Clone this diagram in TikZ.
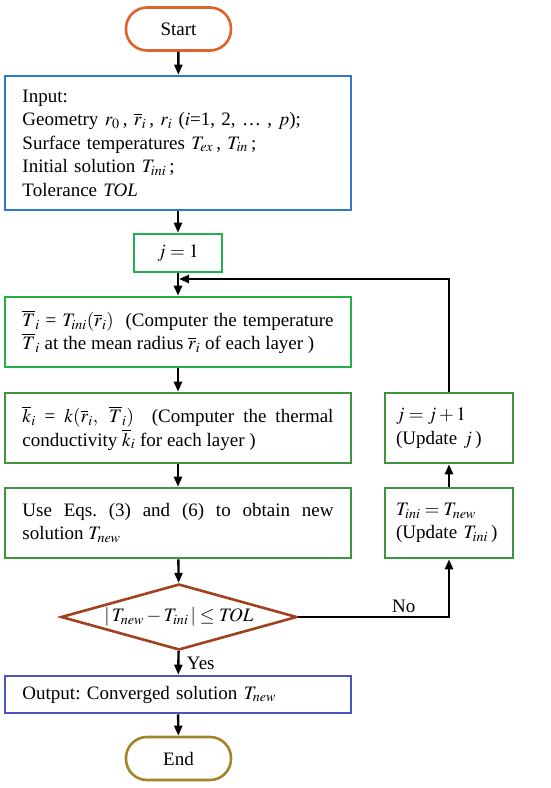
\documentclass[tikz,border=0pt]{standalone}
\usepackage{mathptmx}
\usepackage{fontspec}
\setmainfont{Liberation Serif}
\usetikzlibrary{arrows.meta, positioning, shapes.geometric, calc}
\definecolor{corange}{HTML}{DF622A}
\definecolor{cblue}{HTML}{2F78C8}
\definecolor{cgreen}{HTML}{22B04B}
\definecolor{cdgreen}{HTML}{3F9440}
\definecolor{cred}{HTML}{A2401F}
\definecolor{cviolet}{HTML}{4A55C0}
\definecolor{cgold}{HTML}{A2852A}
\tikzset{
  every picture/.style={x=1pt, y=-1pt, line width=2.6pt},
  every node/.style={font=\fontsize{19}{23.5}\selectfont\frenchspacing},
  term/.style={draw=#1, rounded corners=21pt, minimum width=105pt, minimum height=43pt, inner sep=0pt},
  box/.style={draw=#1, fill=white, minimum width=346pt, text width=311pt, inner sep=0pt, align=justify},
  box/.default=cgreen,
  sidebox/.style={draw=cdgreen, minimum width=128pt, minimum height=70pt, text width=106pt, inner sep=0pt, align=left},
  arrow/.style={-{Triangle[length=10pt, width=8pt]}, draw=black, line width=2.4pt},
}

\begin{document}
\begin{tikzpicture}
  \useasboundingbox (0,0) rectangle (550,788);
  \node[term=corange] (start) at (178.5,29) {Start};
  \node[box=cblue, minimum height=134pt, align=left] (input) at (178,143) {Input:\\
    Geometry $r_0$\,, $\overline{r}_i$\,, $r_i$ ($i$=1, 2, \dots\ , $p$);\\
    Surface temperatures $T_{ex}$\,, $T_{in}$\,;\\
    Initial solution $T_{ini}$\,;\\
    Tolerance \textit{TOL}};
  \node[draw=cgreen, minimum width=88pt, minimum height=38pt] (init) at (178,253) {$j = 1$};
  \node[box, minimum height=70pt] (tbar) at (178,332) {$\overline{T}_i$ = $T_{ini}(\overline{r}_i)$ \ (Computer the temperature\linebreak
    $\overline{T}_i$ at the mean radius $\overline{r}_i$ of each layer )};
  \node[box=cdgreen, minimum height=70pt] (kbar) at (178,428) {$\overline{k}_i$ = $k(\overline{r}_i,\ \overline{T}_i)$ \ (Computer the thermal\linebreak
    conductivity $\overline{k}_i$ for each layer )};
  \node[box=cdgreen, minimum height=70pt] (solve) at (178,523) {Use Eqs. (3) and (6) to obtain new\linebreak
    solution $T_{new}$};
  \node[diamond, draw=cred, aspect=3.58, minimum width=236pt, minimum height=66pt, inner sep=0pt] (check) at (179,617)
    {$|\,T_{new} - T_{ini}\,| \leq \mathit{TOL}$};
  \node[box=cviolet, minimum height=37pt, align=left] (output) at (178,694.5) {Output: Converged solution $T_{new}$};
  \node[term=cgold] (stop) at (178.5,758.5) {End};
  % loop on the right
  \node[sidebox] (incr) at (449,428) {$j = j + 1$\\(Update $j$\,)};
  \node[sidebox] (update) at (449,523) {$T_{ini} = T_{new}$\\(Update $T_{ini}$\,)};
  \coordinate (back) at (179,279);

  \draw[arrow] (start) -- (input);
  \draw[arrow] (input) -- (init);
  \draw[arrow] (init) -- (tbar);
  \draw[arrow] (tbar) -- (kbar);
  \draw[arrow] (kbar) -- (solve);
  \draw[arrow] (solve) -- (check);
  \draw[arrow] (check) -- node[right, xshift=4pt] {Yes} (output);
  \draw[arrow] (output) -- (stop);
  \draw[arrow] (check.east) -| node[pos=0.35, above] {No} (update.south);
  \draw[arrow] (update) -- (incr);
  \draw[arrow] (incr.north) |- (back);
\end{tikzpicture}
\end{document}
